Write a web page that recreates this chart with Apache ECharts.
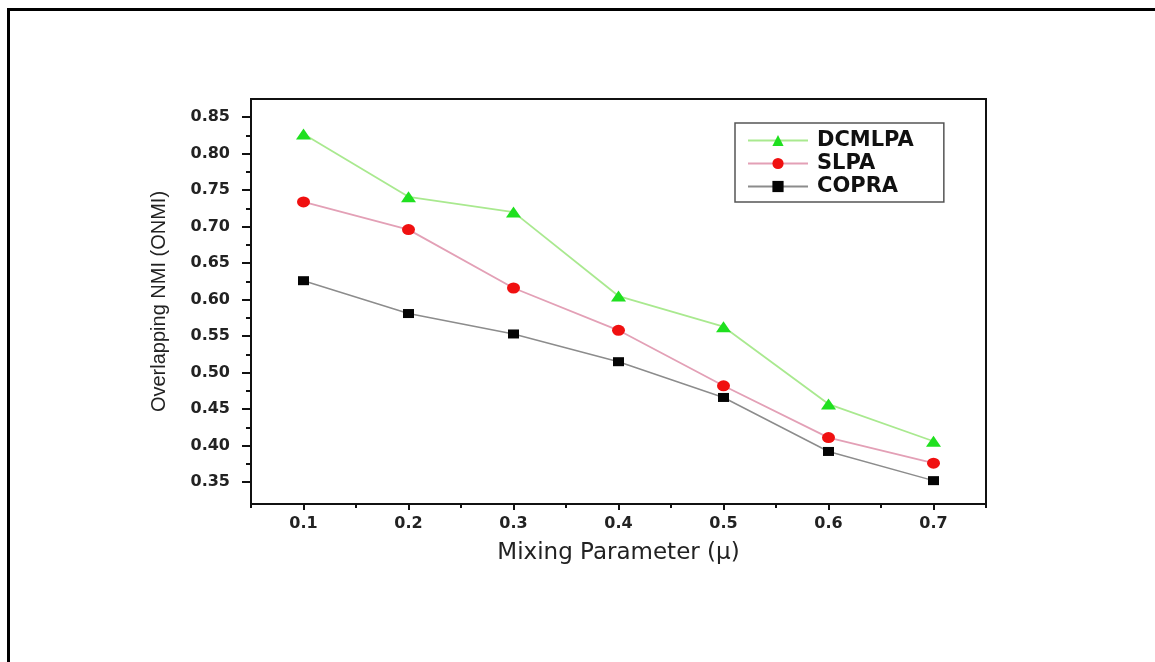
<!DOCTYPE html>
<html>
<head>
<meta charset="utf-8">
<script src="https://cdn.jsdelivr.net/npm/echarts@6/dist/echarts.min.js"></script>
<style>
  html, body { margin: 0; padding: 0; background: #fff; }
  #chart { width: 1155px; height: 662px; }
</style>
</head>
<body>
<div id="chart"></div>
<script>
// mixing parameter (x) and ONMI values
const mixing = [0.1, 0.2, 0.3, 0.4, 0.5, 0.6, 0.7]
const dcmlpa = [0.827, 0.741, 0.720, 0.605, 0.563, 0.457, 0.406]
const slpa = [0.734, 0.696, 0.616, 0.558, 0.482, 0.411, 0.376]
const copra = [0.626, 0.581, 0.553, 0.515, 0.466, 0.392, 0.352]

// tick labels
const xMajor = [0.1, 0.2, 0.3, 0.4, 0.5, 0.6, 0.7]
const xMinor = [0.05, 0.15, 0.25, 0.35, 0.45, 0.55, 0.65, 0.75]
const yMajor = [0.35, 0.40, 0.45, 0.50, 0.55, 0.60, 0.65, 0.70, 0.75, 0.80, 0.85]
const yMinor = [0.375, 0.425, 0.475, 0.525, 0.575, 0.625, 0.675, 0.725, 0.775, 0.825]

const pair = (ys) => mixing.map((x, i) => [x, ys[i]])

var myChart = echarts.init(document.getElementById('chart'))

const tickFont = {
  fontFamily: 'DejaVu Sans',
  fontWeight: 'bold',
  fontSize: 16,
  color: '#222',
}
const axisBlack = { show: true, lineStyle: { color: '#111', width: 2 } }

var option = {
  backgroundColor: '#fff',
  animation: false,
  grid: {
    left: 251,
    right: 169,
    top: 99,
    bottom: 158,
    show: true,
    borderColor: '#111',
    borderWidth: 2,
  },
  legend: {
    orient: 'vertical',
    left: 735,
    top: 123,
    padding: [7, 30, 5, 12],
    itemWidth: 60,
    itemHeight: 14,
    itemGap: 2,
    borderColor: '#555',
    borderWidth: 1.5,
    textStyle: {
      fontFamily: 'DejaVu Sans',
      fontWeight: 'bold',
      fontSize: 21,
      color: '#111',
      padding: [0, 0, 0, 4],
    },
    data: ['DCMLPA', 'SLPA', 'COPRA'],
  },
  xAxis: [
    {
      type: 'value',
      min: 0.05,
      max: 0.75,
      name: 'Mixing Parameter (\u03bc)',
      nameLocation: 'middle',
      nameGap: 38,
      nameTextStyle: {
        fontFamily: 'DejaVu Sans',
        fontSize: 23,
        color: '#222',
      },
      axisLine: axisBlack,
      axisTick: { show: true, customValues: xMajor, length: 6, lineStyle: { color: '#111', width: 2 } },
      axisLabel: Object.assign({ customValues: xMajor, margin: 12, formatter: (v) => v.toFixed(1) }, tickFont),
      splitLine: { show: false },
    },
    {
      type: 'value',
      min: 0.05,
      max: 0.75,
      position: 'bottom',
      axisLine: { show: false },
      axisTick: { show: true, customValues: xMinor, length: 4, lineStyle: { color: '#111', width: 2 } },
      axisLabel: { show: false },
      splitLine: { show: false },
    },
  ],
  yAxis: [
    {
      type: 'value',
      min: 0.32,
      max: 0.875,
      name: 'Overlapping NMI (ONMI)',
      nameLocation: 'middle',
      nameGap: 82,
      nameTextStyle: {
        fontFamily: 'Liberation Sans',
        fontSize: 20,
        color: '#222',
      },
      axisLine: axisBlack,
      axisTick: { show: true, customValues: yMajor, length: 9, lineStyle: { color: '#111', width: 2 } },
      axisLabel: Object.assign({ customValues: yMajor, margin: 21, formatter: (v) => v.toFixed(2) }, tickFont),
      splitLine: { show: false },
    },
    {
      type: 'value',
      min: 0.32,
      max: 0.875,
      position: 'left',
      axisLine: { show: false },
      axisTick: { show: true, customValues: yMinor, length: 5, lineStyle: { color: '#111', width: 2 } },
      axisLabel: { show: false },
      splitLine: { show: false },
    },
  ],
  series: [
    {
      name: 'DCMLPA',
      type: 'line',
      data: pair(dcmlpa),
      symbol: 'triangle',
      symbolSize: [15, 11],
      itemStyle: { color: '#1fe01f' },
      lineStyle: { color: '#a9e98f', width: 1.8 },
      z: 3,
    },
    {
      name: 'SLPA',
      type: 'line',
      data: pair(slpa),
      symbol: 'circle',
      symbolSize: [13, 11],
      itemStyle: { color: '#f01010' },
      lineStyle: { color: '#e3a0b6', width: 1.8 },
      z: 4,
    },
    {
      name: 'COPRA',
      type: 'line',
      data: pair(copra),
      symbol: 'rect',
      symbolSize: [11, 9],
      itemStyle: { color: '#050505' },
      lineStyle: { color: '#8c8c8c', width: 1.5 },
      z: 5,
    },
  ],
  graphic: [
    {
      // outer frame of the figure (top and left edges only)
      type: 'polyline',
      shape: { points: [[8.5, 662], [8.5, 9.5], [1155, 9.5]] },
      style: { stroke: '#000', lineWidth: 3, fill: null },
      silent: true,
    },
  ],
}

option && myChart.setOption(option)
</script>
</body>
</html>
